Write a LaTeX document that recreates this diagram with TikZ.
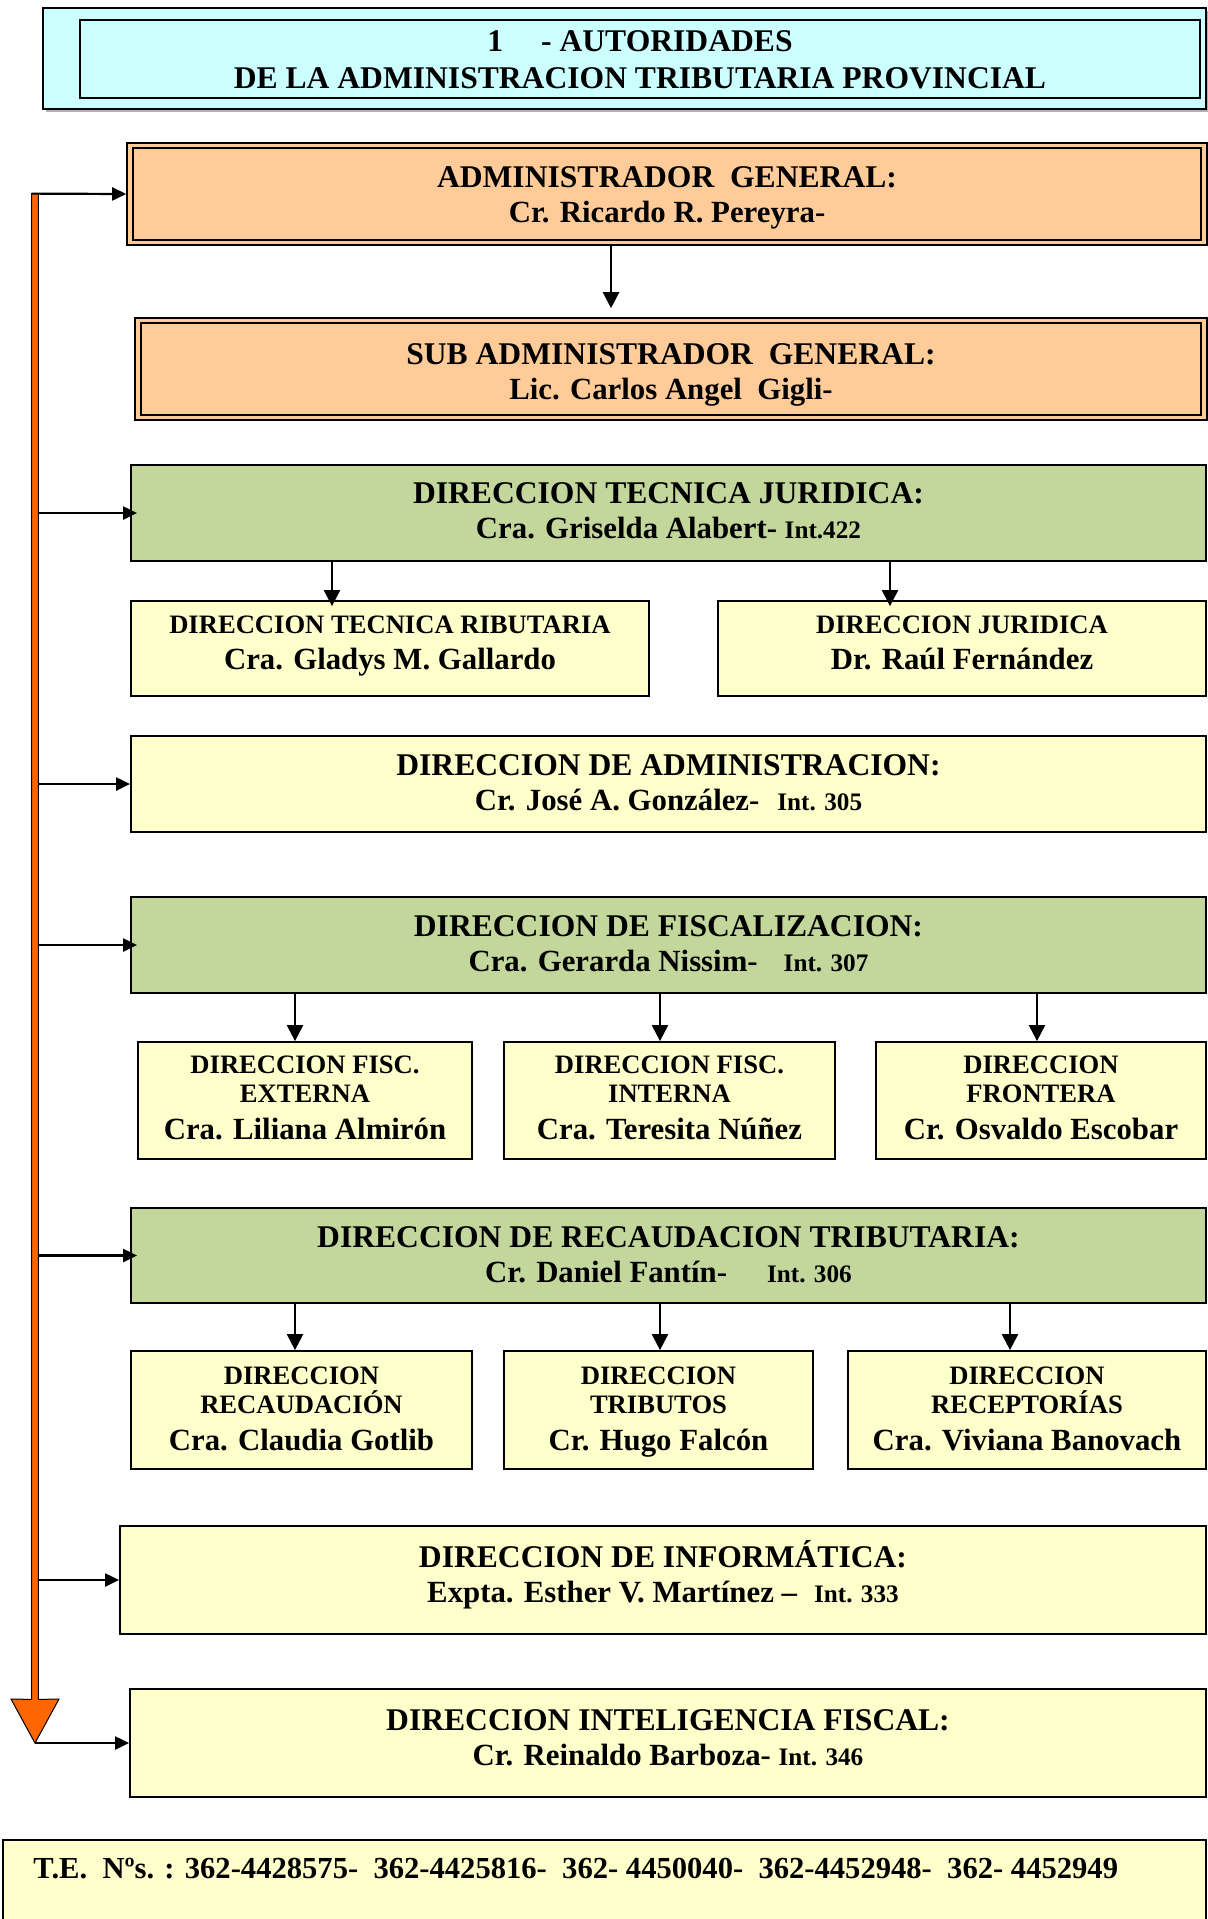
\documentclass[tikz,border=0pt]{standalone}
\usepackage{fontspec}
\setmainfont{Liberation Serif}
\usetikzlibrary{arrows.meta,fit}
\definecolor{tcyan}{HTML}{CCFFFF}
\definecolor{tpeach}{HTML}{FFCC99}
\definecolor{tgreen}{HTML}{C3D69B}
\definecolor{tyellow}{HTML}{FFFFCC}
\definecolor{torange}{HTML}{FF6600}
\newcommand\fsMain{\fontsize{15.8}{17.5}\selectfont}
\newcommand\fsName{\fontsize{15.4}{17.5}\selectfont}
\newcommand\fsSub{\fontsize{13.3}{14.5}\selectfont}
\newcommand\fsInt{\fontsize{12.6}{14}\selectfont}
\begin{document}
\begin{tikzpicture}[x=0.5pt,y=-0.5pt,
  frame/.style={draw=black, inner sep=0pt},
  box/.style={frame, line width=0.9pt},
  ybox/.style={box, fill=tyellow},
  gbox/.style={box, fill=tgreen},
  txt/.style={anchor=base, inner sep=0pt, align=center, font=\bfseries\fsMain},
  stxt/.style={txt, font=\bfseries\fsSub},
  arr/.style={line width=1.1pt, -{Triangle[width=8pt,length=8pt]}},
  larr/.style={line width=1.1pt, -{Triangle[width=6.5pt,length=7pt]}}]
\useasboundingbox (0,0) rectangle (1208,1919);

% title
\fill[gray!60] (46,11) rectangle (1209,112);
\node[frame, line width=0.6pt, fill=tcyan, fit={(43,8)(1206,109)}] (tout) {};
\node[frame, line width=1.4pt, fit={(80,20)(1200,98)}] (title) {};
\node[txt, font=\bfseries\fontsize{15.8}{18.5}\selectfont] (titletxt) at (640,88)
  {1\hspace{19pt}- AUTORIDADES\\DE LA ADMINISTRACION TRIBUTARIA PROVINCIAL};

% administrador general
\node[frame, line width=0.8pt, fill=tpeach, fit={(127,143)(1207,245)}] (Aout) {};
\node[box, line width=1.2pt, fit={(133,148)(1201,240)}] (A) {};
\node[txt] (Atxt) at (667,222) {ADMINISTRADOR\ \ GENERAL:\\{\fsName Cr. Ricardo R. Pereyra-}};

% sub administrador
\node[frame, line width=0.8pt, fill=tpeach, fit={(135,318)(1207,420)}] (Bout) {};
\node[box, line width=1.2pt, fit={(141,323)(1201,415)}] (B) {};
\node[txt] (Btxt) at (671,399) {SUB ADMINISTRADOR\ \ GENERAL:\\{\fsName Lic. Carlos Angel\ \ Gigli-}};

% tecnica juridica
\node[gbox, fit={(131,465)(1206,561)}] (C) {};
\node[txt] (Ctxt) at (668.5,538) {DIRECCION TECNICA JURIDICA:\\{\fsName Cra. Griselda Alabert- {\fsInt Int.422}}};
\node[ybox, fit={(131,601)(649,696)}] (C1) {};
\node[stxt] (C1txt) at (390,669) {DIRECCION TECNICA RIBUTARIA\\[3.5pt]{\fsName Cra. Gladys M. Gallardo}};
\node[ybox, fit={(718,601)(1206,696)}] (C2) {};
\node[stxt] (C2txt) at (962,669) {DIRECCION JURIDICA\\[3.5pt]{\fsName Dr. Raúl Fernández}};

% administracion
\node[ybox, fit={(131,736)(1206,832)}] (D) {};
\node[txt] (Dtxt) at (668.5,810) {DIRECCION DE ADMINISTRACION:\\{\fsName Cr. José A. González-\hspace{9pt}{\fsInt Int. 305}}};

% fiscalizacion
\node[gbox, fit={(131,897)(1206,993)}] (E) {};
\node[txt] (Etxt) at (668.5,971) {DIRECCION DE FISCALIZACION:\\{\fsName Cra. Gerarda Nissim-\hspace{13pt}{\fsInt Int. 307}}};
\node[ybox, fit={(138,1042)(472,1159)}] (E1) {};
\node[stxt] (E1txt) at (305,1139) {DIRECCION FISC.\\EXTERNA\\[4pt]{\fsName Cra. Liliana Almirón}};
\node[ybox, fit={(504,1042)(835,1159)}] (E2) {};
\node[stxt] (E2txt) at (669.5,1139) {DIRECCION FISC.\\INTERNA\\[4pt]{\fsName Cra. Teresita Núñez}};
\node[ybox, fit={(876,1042)(1206,1159)}] (E3) {};
\node[stxt] (E3txt) at (1041,1139) {DIRECCION\\FRONTERA\\[4pt]{\fsName Cr. Osvaldo Escobar}};

% recaudacion
\node[gbox, fit={(131,1208)(1206,1303)}] (F) {};
\node[txt] (Ftxt) at (668.5,1282) {DIRECCION DE RECAUDACION TRIBUTARIA:\\{\fsName Cr. Daniel Fantín-\hspace{20pt}{\fsInt Int. 306}}};
\node[ybox, fit={(131,1351)(472,1469)}] (F1) {};
\node[stxt] (F1txt) at (301.5,1450) {DIRECCION\\RECAUDACIÓN\\[4pt]{\fsName Cra. Claudia Gotlib}};
\node[ybox, fit={(504,1351)(813,1469)}] (F2) {};
\node[stxt] (F2txt) at (658.5,1450) {DIRECCION\\TRIBUTOS\\[4pt]{\fsName Cr. Hugo Falcón}};
\node[ybox, fit={(848,1351)(1206,1469)}] (F3) {};
\node[stxt] (F3txt) at (1027,1450) {DIRECCION\\RECEPTORÍAS\\[4pt]{\fsName Cra. Viviana Banovach}};

% informatica
\node[ybox, fit={(120,1526)(1206,1634)}] (G) {};
\node[txt] (Gtxt) at (663,1602) {DIRECCION DE INFORMÁTICA:\\{\fsName Expta. Esther V. Martínez --\hspace{8.5pt}{\fsInt Int. 333}}};

% inteligencia fiscal
\node[ybox, fit={(130,1689)(1206,1797)}] (H) {};
\node[txt] (Htxt) at (668,1765) {DIRECCION INTELIGENCIA FISCAL:\\{\fsName Cr. Reinaldo Barboza- {\fsInt Int. 346}}};

% footer
\node[frame, line width=0.9pt, fill=tyellow, fit={(3,1840)(1206,1935)}] (foot) {};
\node[anchor=base west, inner sep=0pt, font=\bfseries\fontsize{15.3}{18}\selectfont] (tel) at (33,1878)
  {T.E.\ \ Nºs. : 362-4428575-\ \ 362-4425816-\ \ 362- 4450040-\ \ 362-4452948-\ \ 362- 4452949};

% orange bar and arrow head
\node[inner sep=0pt, fit={(32,194)(38,1699)}] (bar) {};
\coordinate (tip) at (35,1743);
\filldraw[fill=torange, draw=black, line width=0.5pt]
  (bar.north west) -- (bar.north east) -- (bar.south east) -- (59,1699) -- (tip)
  -- (11,1699) -- (bar.south west) -- cycle;

% left connectors
\draw[larr] (bar.north west) -- (Aout.west);
\draw[larr] (bar.east |- C.west) -- ([xshift=3.5pt]C.west);
\draw[larr] (bar.east |- D.west) -- (D.west);
\draw[larr] (bar.east |- E.west) -- ([xshift=3.5pt]E.west);
\draw[larr] (bar.east |- F.west) -- ([xshift=3.5pt]F.west);
\draw[larr] (bar.east |- G.west) -- (G.west);
\draw[larr] (tip) -- (H.west);

% vertical connectors
\coordinate (xa) at (611,0);
\coordinate (xc1) at (332,0);
\coordinate (xc2) at (890,0);
\coordinate (xe1) at (295,0);
\coordinate (xe2) at (660,0);
\coordinate (xe3) at (1037,0);
\coordinate (xf3) at (1010,0);
\draw[arr] (Aout.south -| xa) -- ([yshift=4.5pt]Bout.north -| xa);
\draw[arr] (C.south -| xc1) -- ([yshift=-3pt]C1.north -| xc1);
\draw[arr] (C.south -| xc2) -- ([yshift=-3pt]C2.north -| xc2);
\draw[arr] (E.south -| xe1) -- (E1.north -| xe1);
\draw[arr] (E.south -| xe2) -- (E2.north -| xe2);
\draw[arr] (E.south -| xe3) -- (E3.north -| xe3);
\draw[arr] (F.south -| xe1) -- (F1.north -| xe1);
\draw[arr] (F.south -| xe2) -- (F2.north -| xe2);
\draw[arr] (F.south -| xf3) -- (F3.north -| xf3);
\end{tikzpicture}
\end{document}
